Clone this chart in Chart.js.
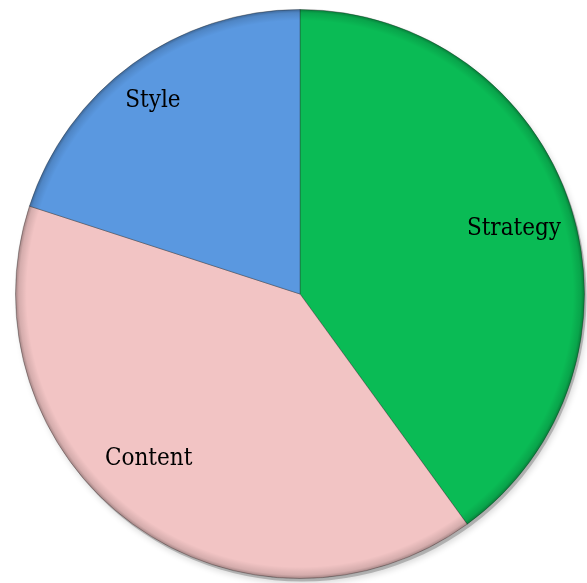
<!DOCTYPE html>
<html>
<head>
<meta charset="utf-8">
<script src="https://cdn.jsdelivr.net/npm/chart.js@4/dist/chart.umd.min.js"></script>
<style>
html,body{margin:0;padding:0;background:#fff;}
#wrap{width:587px;height:583px;position:relative;}
</style>
</head>
<body>
<div id="wrap"><canvas id="c" width="587" height="583"></canvas></div>
<script>
const categories = ["Strategy", "Content", "Style"];
const values = [40, 40, 20];
const colors = ["#0abb55", "#f2c4c4", "#5a98e0"];

const labelPlugin = {
  id: 'sliceLabels',
  afterDatasetsDraw(chart) {
    const ctx = chart.ctx;
    const meta = chart.getDatasetMeta(0);
    const fr = [0.786, 0.786, 0.853];
    const da = [1.1, 6.6, -1.3];
    ctx.save();
    ctx.font = '24px "DejaVu Serif Condensed", "DejaVu Serif", serif';
    ctx.fillStyle = '#000';
    ctx.textAlign = 'center';
    ctx.textBaseline = 'middle';
    meta.data.forEach((arc, i) => {
      const mid = (arc.startAngle + arc.endAngle) / 2 + da[i] * Math.PI / 180;
      const r = arc.outerRadius * fr[i];
      const x = arc.x + Math.cos(mid) * r;
      const y = arc.y + Math.sin(mid) * r;
      ctx.fillText(categories[i], x, y);
    });
    ctx.restore();
  }
};

const rimPlugin = {
  id: 'rim',
  beforeDatasetsDraw(chart) {
    const meta = chart.getDatasetMeta(0);
    const a = meta.data[0];
    if (!a) return;
    const ctx = chart.ctx;
    ctx.save();
    ctx.beginPath();
    ctx.arc(a.x + 2, a.y + 3, a.outerRadius, 0, Math.PI * 2);
    ctx.shadowColor = 'rgba(0,0,0,0.35)';
    ctx.shadowBlur = 6;
    ctx.shadowOffsetX = 1;
    ctx.shadowOffsetY = 2;
    ctx.fillStyle = 'rgba(120,120,120,0.45)';
    ctx.fill();
    ctx.restore();
  },
  afterDatasetsDraw(chart) {
    const meta = chart.getDatasetMeta(0);
    const a = meta.data[0];
    if (!a) return;
    const ctx = chart.ctx;
    const R = a.outerRadius;
    ctx.save();
    const g = ctx.createRadialGradient(a.x - 4, a.y - 6, 0, a.x, a.y, R);
    g.addColorStop(0, 'rgba(0,0,0,0)');
    g.addColorStop(0.96, 'rgba(0,0,0,0)');
    g.addColorStop(0.988, 'rgba(0,0,0,0.12)');
    g.addColorStop(1, 'rgba(0,0,0,0.32)');
    ctx.beginPath();
    ctx.arc(a.x, a.y, R, 0, Math.PI * 2);
    ctx.fillStyle = g;
    ctx.fill();
    ctx.restore();
  }
};

new Chart(document.getElementById('c'), {
  type: 'pie',
  data: {
    labels: categories,
    datasets: [{
      data: values,
      backgroundColor: colors,
      borderColor: 'rgba(40,40,40,0.35)',
      borderWidth: 1
    }]
  },
  options: {
    responsive: false,
    animation: false,
    rotation: 0,
    layout: { padding: { left: 15, right: 2, top: 9, bottom: 4 } },
    plugins: {
      legend: { display: false },
      tooltip: { enabled: false }
    }
  },
  plugins: [rimPlugin, labelPlugin]
});
</script>
</body>
</html>
